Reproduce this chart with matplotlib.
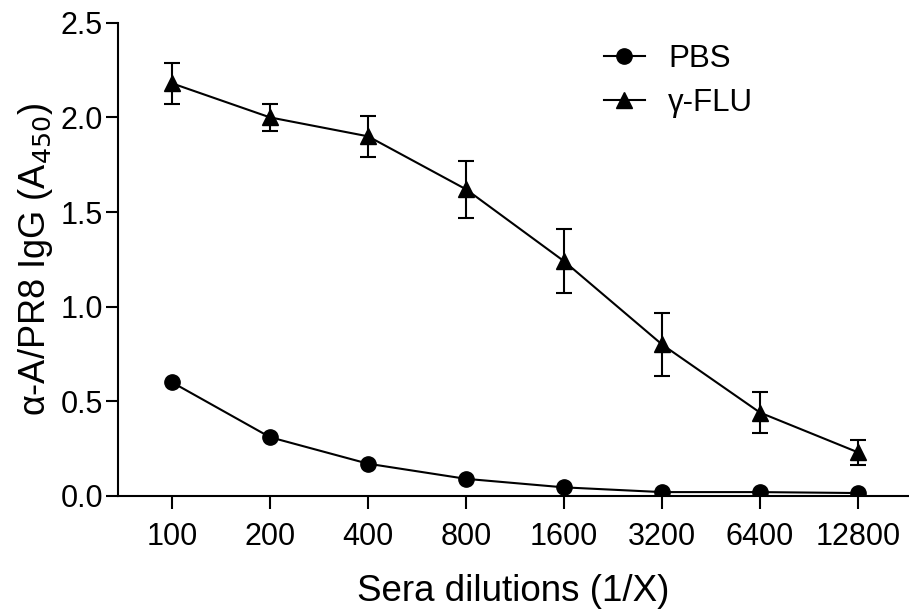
import matplotlib.pyplot as plt
import numpy as np

plt.rcParams['font.family'] = ['Liberation Sans', 'DejaVu Sans']

# data
dilutions = ['100', '200', '400', '800', '1600', '3200', '6400', '12800']
pbs = [0.60, 0.31, 0.17, 0.09, 0.045, 0.02, 0.02, 0.015]
gflu = [2.18, 2.00, 1.90, 1.62, 1.24, 0.80, 0.44, 0.23]
gflu_err = [0.11, 0.07, 0.11, 0.15, 0.17, 0.165, 0.11, 0.065]

fig = plt.figure(figsize=(9.09, 6.16), dpi=100)
ax = fig.add_axes([0.13, 0.195, 0.87, 0.768])

x = np.arange(len(dilutions))
ax.plot(x, pbs, 'o-', color='black', lw=1.5, markersize=11, label='PBS')
ax.errorbar(x, gflu, yerr=gflu_err, fmt='none', ecolor='black',
            capsize=6, elinewidth=1.5, capthick=1.5)
ax.plot(x, gflu, '^-', color='black', lw=1.5, markersize=11, label='\u03b3-FLU')

ax.set_xlim(-0.55, 7.52)
ax.set_ylim(0, 2.5)
ax.set_yticks([0.0, 0.5, 1.0, 1.5, 2.0, 2.5])
ax.set_yticklabels(['0.0', '0.5', '1.0', '1.5', '2.0', '2.5'])
ax.set_xticks(x)
ax.set_xticklabels(dilutions)

for s in ['top', 'right']:
    ax.spines[s].set_visible(False)
for s in ['left', 'bottom']:
    ax.spines[s].set_linewidth(1.5)
ax.tick_params(axis='both', direction='out', width=1.5, length=9, labelsize=22)
ax.tick_params(axis='y', pad=2)
ax.tick_params(axis='x', pad=10)

ax.set_xlabel('Sera dilutions (1/X)', fontsize=26.5, labelpad=16)
ax.set_ylabel('\u03b1-A/PR8 IgG (A$_{450}$)', fontsize=26, labelpad=4)

ax.legend(loc='upper left', bbox_to_anchor=(0.579, 1.015), frameon=False,
          fontsize=22.5, handlelength=1.3, handletextpad=0.75, labelspacing=0.45)

fig.savefig('out.png', dpi=100)
